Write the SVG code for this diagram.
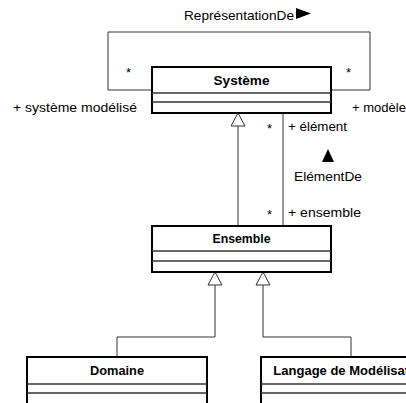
<svg xmlns="http://www.w3.org/2000/svg" width="406" height="403" viewBox="0 0 406 403">
  <style>
    .box { fill: #fff; stroke: #000; stroke-width: 2; }
    .div { stroke: #333; stroke-width: 1.3; fill: none; }
    .edge { stroke: #333; stroke-width: 1; fill: none; }
    .gen { fill: #fff; stroke: #333; stroke-width: 1; }
    .title { font-family: "Liberation Sans", Arial, sans-serif; font-size: 13px; font-weight: bold; text-anchor: middle; fill: #000; }
    .lbl { font-family: "Liberation Sans", Arial, sans-serif; font-size: 13px; fill: #000; }
  </style>

  <!-- connectors -->
  <g id="connectors">
    <!-- self association ReprésentationDe -->
    <polyline class="edge" points="152,90 108,90 108,32 370,32 370,90 331,90"/>
    <text class="lbl" x="184" y="20" textLength="110" lengthAdjust="spacingAndGlyphs">ReprésentationDe</text>
    <polygon points="296,8 311,13.5 296,19" fill="#000"/>
    <text class="lbl" x="126" y="77">*</text>
    <text class="lbl" x="346" y="77">*</text>
    <text class="lbl" x="13" y="112" textLength="124" lengthAdjust="spacingAndGlyphs">+ système modélisé</text>
    <text class="lbl" x="352" y="112" textLength="54" lengthAdjust="spacingAndGlyphs">+ modèle</text>

    <!-- Ensemble generalizes Système -->
    <line class="edge" x1="238" y1="126" x2="238" y2="226"/>
    <polygon class="gen" points="238,113 231,126 245,126"/>

    <!-- association ElémentDe -->
    <line class="edge" x1="283" y1="113" x2="283" y2="226"/>
    <text class="lbl" x="267" y="133">*</text>
    <text class="lbl" x="288" y="131" textLength="59" lengthAdjust="spacingAndGlyphs">+ élément</text>
    <polygon points="322,162 328,149 334,162" fill="#000"/>
    <text class="lbl" x="294" y="181" textLength="68" lengthAdjust="spacingAndGlyphs">ElémentDe</text>
    <text class="lbl" x="267" y="219">*</text>
    <text class="lbl" x="288" y="217" textLength="73" lengthAdjust="spacingAndGlyphs">+ ensemble</text>

    <!-- subclasses of Ensemble -->
    <polyline class="edge" points="215,285 215,337 117,337 117,357"/>
    <polygon class="gen" points="215,272 208,285 222,285"/>
    <polyline class="edge" points="263,285 263,337 351,337 351,357"/>
    <polygon class="gen" points="263,272 256,285 270,285"/>
  </g>

  <g id="systeme">
    <rect class="box" x="152" y="67" width="179" height="46"/>
    <line class="div" x1="152" y1="93" x2="331" y2="93"/>
    <line class="div" x1="152" y1="102" x2="331" y2="102"/>
    <text class="title" x="241.5" y="85" textLength="56" lengthAdjust="spacingAndGlyphs">Système</text>
  </g>

  <g id="ensemble">
    <rect class="box" x="152" y="226" width="179" height="46"/>
    <line class="div" x1="152" y1="251" x2="331" y2="251"/>
    <line class="div" x1="152" y1="261" x2="331" y2="261"/>
    <text class="title" x="241.5" y="243" textLength="58" lengthAdjust="spacingAndGlyphs">Ensemble</text>
  </g>

  <g id="domaine">
    <rect class="box" x="27" y="357" width="180" height="60"/>
    <line class="div" x1="27" y1="384" x2="207" y2="384"/>
    <line class="div" x1="27" y1="393" x2="207" y2="393"/>
    <text class="title" x="117" y="375" textLength="54" lengthAdjust="spacingAndGlyphs">Domaine</text>
  </g>

  <g id="langage">
    <rect class="box" x="261" y="357" width="180" height="60"/>
    <line class="div" x1="261" y1="384" x2="441" y2="384"/>
    <line class="div" x1="261" y1="393" x2="441" y2="393"/>
    <text class="title" x="351" y="375">Langage de Modélisation</text>
  </g>
</svg>
